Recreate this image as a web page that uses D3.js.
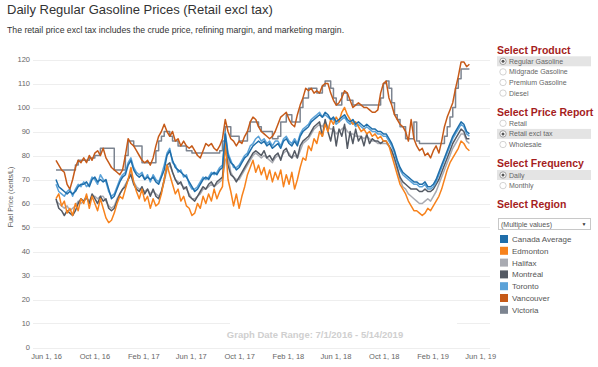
<!DOCTYPE html>
<html>
<head>
  <title>Daily Regular Gasoline Prices</title>
  <script src="https://d3js.org/d3.v7.min.js"></script>
  <style>
    body { margin: 0; background: #fff; }
    svg { font-family: "Liberation Sans", Arial, sans-serif; display: block; }
    .grid line { stroke: #eeeeee; stroke-width: 1; }
    .tick-label { fill: #666; font-size: 7.5px; }
    .opt { fill: #666; font-size: 7px; }
    .hdr { fill: #a51d1d; font-size: 10.5px; font-weight: bold; }
    .leg { fill: #555; font-size: 8px; }
  </style>
</head>
<body>
  <div id="chart"></div>
  <script>
    // weekly readings, first one on 1 Jul 2016
    const startDate = new Date(2016, 6, 1);
    const stepDays = 7;
    const endDate = new Date(2019, 4, 14);

    const regions = ["Canada Average", "Edmonton", "Halifax", "Montréal", "Toronto", "Vancouver", "Victoria"];
    const colors = ["#1f6eaa", "#f7821c", "#a9abb2", "#545a64", "#5ba2d8", "#c65a18", "#7c8490"];

    const canadaAverage = [
      70, 67, 66, 65, 64, 65, 64, 65, 67, 68,
      68, 69, 67, 70, 71, 69, 70, 69, 70, 66,
      62, 63, 66, 69, 71, 72, 76, 78, 74, 72,
      71, 72, 70, 71, 70, 71, 69, 68, 71, 74,
      80, 82, 78, 75, 74, 73, 72, 71, 69, 67,
      65, 66, 68, 70, 71, 70, 72, 73, 72, 74,
      75, 89, 80, 77, 76, 74, 75, 77, 79, 80,
      82, 84, 85, 86, 85, 86, 84, 85, 83, 84,
      85, 83, 86, 87, 85, 84, 86, 84, 88, 90,
      91, 92, 94, 95, 96, 97, 96, 98, 97, 95,
      96, 94, 95, 96, 97, 95, 94, 95, 93, 94,
      93, 92, 93, 92, 91, 91, 90, 90, 89, 89,
      87, 85, 82, 78, 75, 73, 72, 71, 70, 69,
      69, 68, 68, 69, 67, 67, 68, 70, 73, 76,
      79, 82, 85, 88, 90, 92, 94, 93, 90, 89
    ];
    const edmonton = [
      62, 64, 59, 61, 56, 58, 55, 60, 57, 62,
      60, 64, 58, 63, 60, 57, 62, 58, 54, 52,
      53, 56, 60, 63, 62, 66, 70, 75, 69, 65,
      62, 66, 61, 63, 58, 62, 59, 60, 64, 70,
      76, 72, 68, 64, 66, 61, 63, 59, 58, 55,
      56, 60, 58, 63, 60, 64, 61, 66, 62, 65,
      67, 86, 70, 65, 59, 64, 58, 63, 67, 72,
      75, 78, 73, 76, 72, 75, 70, 74, 69, 73,
      70, 74, 67, 72, 68, 73, 66, 70, 75, 79,
      78, 84, 82, 87, 85, 90, 88, 93, 90, 95,
      93, 96, 94, 98, 100, 97, 95, 93, 94, 92,
      90, 91, 89, 90, 88, 89, 87, 88, 86, 86,
      84, 80, 76, 72, 68, 66, 64, 61, 59, 57,
      57, 56, 55, 56, 58, 57, 59, 61, 63, 66,
      70, 74, 77, 79, 81, 83, 86, 85, 83, 82
    ];
    const halifax = [
      61, 60, 59, 58, 59, 57, 58, 59, 61, 60,
      61, 62, 61, 63, 63, 62, 63, 63, 61, 59,
      58, 59, 62, 64, 66, 68, 70, 73, 69, 67,
      66, 66, 65, 66, 64, 65, 64, 63, 65, 69,
      74, 76, 73, 70, 69, 68, 67, 66, 64, 62,
      62, 63, 64, 66, 66, 67, 68, 67, 68, 69,
      70, 78, 80, 73, 71, 70, 70, 72, 74, 76,
      78, 80, 81, 80, 79, 80, 79, 78, 77, 79,
      80, 79, 81, 82, 81, 79, 80, 79, 82, 85,
      86, 87, 89, 91, 92, 93, 92, 94, 92, 91,
      91, 89, 90, 91, 92, 90, 89, 89, 88, 88,
      88, 87, 88, 87, 86, 86, 85, 85, 85, 85,
      84, 82, 78, 74, 70, 67, 66, 64, 63, 62,
      61, 60, 60, 61, 62, 61, 63, 65, 68, 71,
      74, 77, 80, 83, 85, 87, 89, 89, 86, 85
    ];
    const montreal = [
      62, 58, 57, 55, 57, 56, 55, 57, 60, 62,
      61, 63, 60, 64, 62, 60, 63, 61, 62, 58,
      57, 58, 61, 64, 66, 67, 70, 72, 68, 66,
      65, 67, 64, 66, 63, 66, 63, 62, 65, 70,
      76, 77, 73, 70, 68, 69, 66, 67, 63, 62,
      61, 63, 65, 67, 66, 68, 69, 67, 69, 70,
      71, 84, 76, 72, 71, 69, 71, 73, 75, 77,
      79, 81, 82, 81, 80, 82, 79, 80, 78, 80,
      81, 78, 82, 83, 80, 79, 82, 79, 84, 86,
      87, 88, 90, 92, 93, 94, 88, 95, 90, 86,
      92, 84, 91, 88, 93, 83, 90, 85, 91, 86,
      88, 84, 89, 85, 87, 86, 86, 85, 86, 86,
      84, 82, 79, 75, 71, 69, 68, 67, 66, 66,
      66, 65, 65, 66, 65, 65, 66, 68, 70, 73,
      76, 79, 82, 85, 87, 89, 91, 90, 87, 87
    ];
    const toronto = [
      68, 65, 64, 63, 65, 66, 63, 66, 68, 67,
      69, 67, 68, 71, 70, 68, 72, 70, 69, 65,
      63, 64, 67, 70, 72, 73, 77, 79, 75, 73,
      72, 73, 70, 72, 69, 72, 70, 69, 72, 76,
      81, 83, 77, 76, 73, 74, 71, 72, 68, 66,
      66, 67, 69, 71, 70, 71, 73, 72, 73, 75,
      76, 90, 81, 78, 75, 75, 76, 78, 80, 81,
      84, 85, 87, 88, 86, 87, 85, 86, 84, 86,
      86, 84, 87, 88, 86, 85, 87, 85, 89, 91,
      92, 93, 95, 96, 97, 98, 96, 97, 96, 95,
      95, 93, 94, 95, 96, 94, 93, 94, 92, 93,
      92, 91, 92, 91, 90, 90, 89, 89, 88, 88,
      86, 84, 81, 77, 74, 72, 71, 70, 69, 68,
      68, 67, 67, 68, 66, 66, 67, 69, 72, 75,
      78, 81, 84, 87, 89, 91, 93, 92, 89, 88
    ];
    const vancouver = [
      78, 76, 74, 73, 68, 66, 70, 75, 78, 77,
      79, 77, 80, 78, 81, 82, 80, 83, 79, 77,
      75, 74, 73, 72, 74, 80, 87, 85, 84, 82,
      80, 78, 77, 78, 76, 79, 84, 88, 90, 93,
      90, 88, 90, 86, 87, 84, 86, 84, 83, 84,
      82, 80, 79, 82, 85, 84, 85, 83, 82, 84,
      87, 95, 90, 87, 86, 84, 86, 85, 88, 90,
      94, 96, 95, 92, 90, 89, 88, 87, 88, 90,
      93, 96, 97, 98, 95, 93, 92, 97, 101, 104,
      108, 107, 108, 106, 107, 106, 109, 110, 110, 106,
      103, 101, 102, 104, 107, 106, 103, 100, 101, 102,
      101, 100, 100, 99, 98, 98, 99, 106, 110, 111,
      104, 101, 97, 95, 93, 92, 90, 86, 95, 87,
      84, 82, 83, 80, 81, 79, 82, 84, 81, 86,
      92, 96, 99, 102, 108, 113, 119, 119, 117, 118
    ];
    const victoria = [
      74, 74, 74, 74, 74, 74, 74, 76, 78, 78,
      78, 78, 79, 79, 80, 80, 83, 83, 83, 83,
      83, 74, 74, 74, 74, 80, 86, 86, 84, 84,
      84, 77, 77, 77, 77, 77, 82, 86, 88, 90,
      90, 88, 86, 86, 84, 84, 84, 82, 82, 81,
      81, 81, 81, 81, 81, 81, 81, 81, 81, 82,
      86, 92, 92, 88, 88, 88, 86, 86, 86, 90,
      94, 94, 94, 92, 90, 90, 90, 90, 87, 87,
      88, 94, 94, 97, 97, 94, 94, 94, 100, 104,
      104, 108, 108, 108, 106, 106, 109, 111, 111, 108,
      104, 101, 101, 106, 106, 103, 103, 101, 101, 101,
      101, 101, 101, 101, 101, 101, 101, 104, 110, 111,
      108, 102, 97, 95, 92, 92, 87, 87, 87, 94,
      86, 85, 85, 85, 85, 85, 85, 85, 85, 85,
      88, 92, 96, 100, 108, 112, 116, 116, 116, 116
    ];

    const yTicks = [0, 10, 20, 30, 40, 50, 60, 70, 80, 90, 100, 110, 120];
    const xTickDates = [
      new Date(2016, 5, 1), new Date(2016, 9, 1), new Date(2017, 1, 1), new Date(2017, 5, 1),
      new Date(2017, 9, 1), new Date(2018, 1, 1), new Date(2018, 5, 1), new Date(2018, 9, 1),
      new Date(2019, 1, 1), new Date(2019, 5, 1)
    ];
    const productOptions = ["Regular Gasoline", "Midgrade Gasoline", "Premium Gasoline", "Diesel"];
    const reportOptions = ["Retail", "Retail excl tax", "Wholesale"];
    const frequencyOptions = ["Daily", "Monthly"];

    const seriesValues = [canadaAverage, edmonton, halifax, montreal, toronto, vancouver, victoria];
    const dates = canadaAverage.map((d, i) => d3.timeDay.offset(startDate, i * stepDays));

    const width = 598, height = 367;
    const svg = d3.select("#chart").append("svg")
      .attr("width", width)
      .attr("height", height);

    svg.append("rect").attr("width", width).attr("height", height).attr("fill", "#fff");

    // titles
    svg.append("text")
      .attr("x", 7).attr("y", 14)
      .style("font-size", "13px")
      .style("fill", "#333")
      .text("Daily Regular Gasoline Prices (Retail excl tax)");

    svg.append("text")
      .attr("x", 7).attr("y", 33)
      .style("font-size", "8.7px")
      .style("fill", "#333")
      .text("The retail price excl tax includes the crude price, refining margin, and marketing margin.");

    // scales
    const x = d3.scaleTime()
      .domain([startDate, endDate])
      .range([56, 471]);

    const y = d3.scaleLinear()
      .domain([0, 120])
      .range([347.5, 59.5]);

    // gridlines
    svg.append("g").attr("class", "grid")
      .selectAll("line")
      .data(yTicks)
      .enter().append("line")
      .attr("x1", 33).attr("x2", 490)
      .attr("y1", d => Math.round(y(d)) + 0.5)
      .attr("y2", d => Math.round(y(d)) + 0.5);

    // y axis labels
    const yAxis = svg.append("g")
      .attr("transform", "translate(30,0)")
      .call(d3.axisLeft(y).tickValues(yTicks).tickSize(0).tickPadding(0));
    yAxis.select(".domain").remove();
    yAxis.selectAll("text").attr("class", "tick-label").attr("font-family", null).attr("font-size", null).attr("fill", null);

    // x axis labels
    const xAxis = svg.append("g")
      .attr("transform", "translate(2,354)")
      .call(d3.axisBottom(x).tickValues(xTickDates).tickSize(0).tickPadding(0)
        .tickFormat(d => d3.timeFormat("%b 1, %y")(d)));
    xAxis.select(".domain").remove();
    xAxis.selectAll("text").attr("class", "tick-label").attr("font-family", null).attr("font-size", null).attr("fill", null);

    // y axis title
    svg.append("text")
      .attr("transform", "translate(13,197) rotate(-90)")
      .attr("text-anchor", "middle")
      .style("font-size", "7px")
      .style("fill", "#555")
      .text("Fuel Price (cents/L)");

    // date range note
    svg.append("rect")
      .attr("x", 230).attr("y", 318).attr("width", 227).attr("height", 26)
      .attr("fill", "#fff");
    svg.append("text")
      .attr("x", 315).attr("y", 338)
      .attr("text-anchor", "middle")
      .style("font-size", "9.5px")
      .style("font-weight", "bold")
      .style("fill", "#cfcfcf")
      .text("Graph Date Range:  7/1/2016 - 5/14/2019");

    // lines
    const drawOrder = [6, 2, 3, 4, 1, 0, 5];
    drawOrder.forEach(k => {
      const line = d3.line()
        .x((d, i) => x(dates[i]))
        .y(d => y(d))
        .curve(k === 6 ? d3.curveStepAfter : d3.curveLinear);
      svg.append("path")
        .datum(seriesValues[k])
        .attr("fill", "none")
        .attr("stroke", colors[k])
        .attr("stroke-width", 1.5)
        .attr("stroke-linejoin", "round")
        .attr("d", line);
    });

    // right panel
    const px = 497;
    function header(label, baseline) {
      svg.append("text").attr("class", "hdr").attr("x", px).attr("y", baseline).text(label);
    }
    function radios(options, top, selected) {
      options.forEach((o, i) => {
        const cy = top + i * 10.6;
        if (i === selected) {
          svg.append("rect").attr("x", px).attr("y", cy - 5).attr("width", 94).attr("height", 10)
            .attr("fill", "#e4e4e4");
        }
        svg.append("circle").attr("cx", 503).attr("cy", cy).attr("r", 3.2)
          .attr("fill", "#fff").attr("stroke", i === selected ? "#888" : "#c8c8c8").attr("stroke-width", 0.8);
        if (i === selected) {
          svg.append("circle").attr("cx", 503).attr("cy", cy).attr("r", 1.5).attr("fill", "#555");
        }
        svg.append("text").attr("class", "opt").attr("x", 509).attr("y", cy + 2.5).text(o);
      });
    }

    header("Select Product", 54);
    radios(productOptions, 61.3, 0);
    header("Select Price Report", 115.5);
    radios(reportOptions, 123.3, 1);
    header("Select Frequency", 166.5);
    radios(frequencyOptions, 175, 0);
    header("Select Region", 208);

    svg.append("rect").attr("x", 498.5).attr("y", 218.5).attr("width", 92).attr("height", 11)
      .attr("fill", "#fff").attr("stroke", "#c8c8c8");
    svg.append("text").attr("class", "opt").attr("x", 501).attr("y", 226.5).style("fill", "#555")
      .text("(Multiple values)");
    svg.append("text").attr("x", 584).attr("y", 226).style("font-size", "5px").style("fill", "#333")
      .attr("text-anchor", "middle").text("▼");

    // legend
    regions.forEach((r, i) => {
      const cy = 239 + i * 11.8;
      svg.append("rect").attr("x", 500).attr("y", cy - 4).attr("width", 8).attr("height", 8)
        .attr("fill", colors[i]);
      svg.append("text").attr("class", "leg").attr("x", 512).attr("y", cy + 3).text(r);
    });
  </script>
</body>
</html>
